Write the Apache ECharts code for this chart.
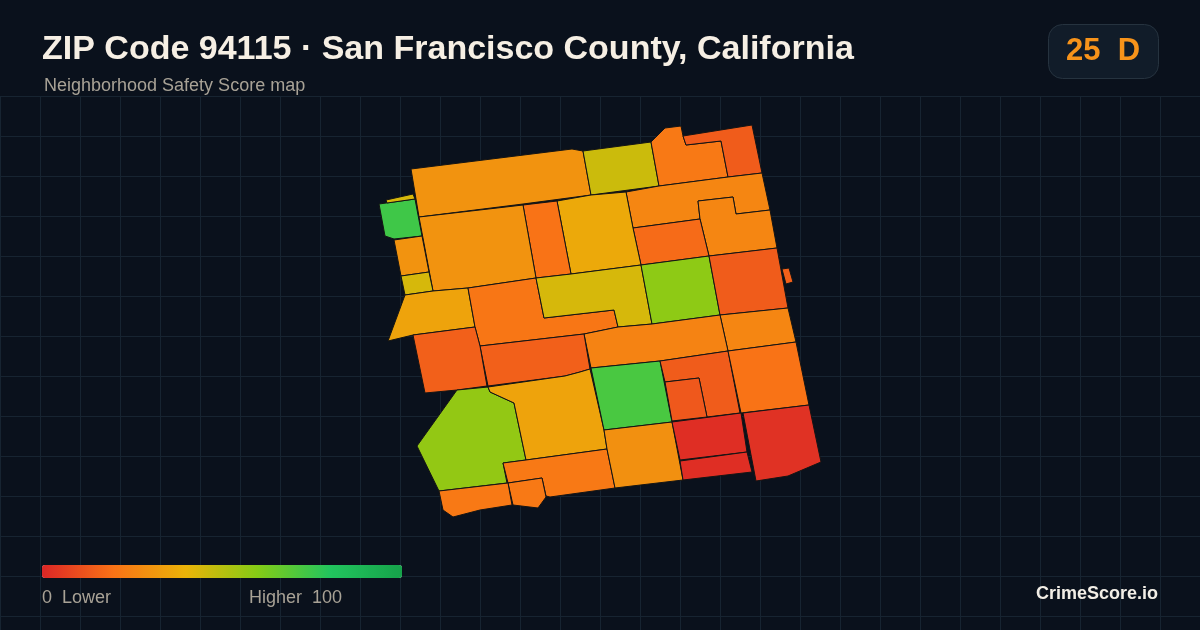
<!DOCTYPE html>
<html>
<head>
<meta charset="utf-8">
<style>html,body{margin:0;padding:0;background:#0a111c}#c{width:1200px;height:630px}</style>
<script src="https://cdn.jsdelivr.net/npm/echarts@6/dist/echarts.min.js"></script>
</head>
<body>
<div id="c"></div>
<script>
const titleText = "ZIP Code 94115 · San Francisco County, California";
const subtitleText = "Neighborhood Safety Score map";
const scoreText = "25  D";
const brandText = "CrimeScore.io";
const legendLow = "0  Lower";
const legendHigh = "Higher  100";
const scaleColors = ["#dc2626","#f97316","#eab308","#84cc16","#22c55e","#16a34a"];

const tractNames = ["A","B","C","D","E","F","G","H","I","J","K","L","M","N","O","P","Q","R","S","T","U","V","W","X","Y","Z","AA","BB","CC","DD","EE","FF","GG","HH","II","JJ","KK"];
const tractScores = [30,46,22,14,26,26,18,37,20,30,74,44,30,44,35,21,44,58,14,15,26,25,15,15,57,35,22,22,22,72,29,14,13,20,2,2,3];
const tractOutlines = [
 [[411,169],[572,149],[583,151],[591,195],[523,204],[419,217]],
 [[583,151],[651,142],[659,186],[591,195]],
 [[651,142],[665,128],[681,126],[683,136],[686,145],[721,141],[728,177],[659,186]],
 [[683,136],[752,125],[762,173],[728,177],[721,141],[686,145]],
 [[626,192],[659,186],[728,177],[762,173],[770,210],[736,214],[733,197],[698,201],[700,219],[633,228]],
 [[698,201],[733,197],[736,214],[770,210],[777,248],[709,256],[700,219]],
 [[633,228],[700,219],[709,256],[641,265]],
 [[557,201],[591,195],[626,192],[633,228],[641,265],[571,274]],
 [[523,205],[557,201],[571,274],[536,278]],
 [[419,217],[523,205],[536,278],[468,288],[433,291]],
 [[379,204],[415,199],[422,236],[394,239],[385,236]],
 [[386,200],[413,194],[415,199],[387,203]],
 [[394,240],[422,236],[429,272],[401,276]],
 [[401,276],[429,272],[433,291],[405,295]],
 [[405,295],[433,291],[468,288],[475,327],[413,335],[388,341]],
 [[468,288],[536,278],[544,318],[614,310],[618,327],[584,334],[480,346],[475,327]],
 [[536,278],[571,274],[641,265],[652,324],[618,327],[614,310],[544,318]],
 [[641,265],[709,256],[720,315],[652,324]],
 [[709,256],[777,248],[788,308],[720,315]],
 [[782,269],[789,268],[793,282],[786,284]],
 [[720,315],[788,308],[796,342],[728,351]],
 [[584,334],[618,327],[652,324],[720,315],[728,351],[660,361],[591,368],[590,369]],
 [[480,346],[584,334],[590,369],[580,372],[565,376],[488,386]],
 [[413,335],[475,327],[480,346],[487,386],[457,390],[425,393]],
 [[457,390],[488,387],[490,392],[514,403],[526,460],[503,463],[507,483],[439,491],[417,446]],
 [[488,387],[565,376],[580,372],[590,369],[604,430],[607,449],[526,460],[514,403],[490,392]],
 [[503,463],[526,460],[607,449],[615,488],[550,497],[546,496],[542,478],[508,483]],
 [[508,483],[542,478],[546,497],[538,508],[513,505]],
 [[439,491],[508,483],[512,505],[480,510],[453,517],[443,510]],
 [[591,368],[660,361],[672,422],[604,430]],
 [[604,430],[672,422],[683,480],[615,488],[607,449]],
 [[660,361],[728,351],[740,413],[707,417],[699,378],[665,382]],
 [[665,382],[699,378],[707,417],[672,421]],
 [[728,351],[796,342],[809,405],[741,413]],
 [[672,422],[741,413],[747,452],[680,460]],
 [[680,461],[747,452],[752,472],[683,480]],
 [[743,413],[809,405],[821,462],[788,476],[756,481]]
];

const geoJson = {
  type: "FeatureCollection",
  features: tractNames.map((name, i) => ({
    type: "Feature",
    properties: { name },
    geometry: { type: "Polygon", coordinates: [tractOutlines[i].concat([tractOutlines[i][0]])] }
  }))
};
echarts.registerMap("zip94115", geoJson);

const sans = "'Liberation Sans', Arial, sans-serif";
const chart = echarts.init(document.getElementById("c"), null, { renderer: "canvas" });
chart.setOption({
  animation: false,
  backgroundColor: "#0a111c",
  title: [
    { text: titleText, left: 42, top: 33, padding: 0, textStyle: { color: "#f6efe4", fontSize: 34, fontWeight: "bold", fontFamily: sans } },
    { text: subtitleText, left: 44, top: 77, padding: 0, textStyle: { color: "#a8a296", fontSize: 18, fontWeight: "normal", fontFamily: sans } }
  ],
  grid: { left: 0, top: 96, width: 1200, height: 534 },
  xAxis: { type: "value", min: 0, max: 1200, interval: 40, z: -1, axisLine: { show: false }, axisTick: { show: false }, axisLabel: { show: false },
    splitLine: { show: true, lineStyle: { color: "#172431", width: 1 } } },
  yAxis: { type: "value", inverse: true, min: 0, max: 534, interval: 40, z: -1, axisLine: { show: false }, axisTick: { show: false }, axisLabel: { show: false },
    splitLine: { show: true, showMaxLine: false, lineStyle: { color: "#172431", width: 1 } } },
  visualMap: {
    type: "continuous", min: 0, max: 100, orient: "horizontal", left: 42, top: 565, padding: 0, z: 20,
    itemWidth: 13, itemHeight: 360, calculable: false, realtime: false, hoverLink: false, text: null, showLabel: false,
    inRange: { color: scaleColors }, seriesIndex: 0,
    textStyle: { color: "transparent", fontSize: 0 }
  },
  series: [{
    type: "map", map: "zip94115", silent: true, roam: false, z: 5,
    projection: { project: p => p, unproject: p => p },
    left: 379, top: 125, width: 442, height: 392,
    label: { show: false },
    itemStyle: { borderColor: "#141414", borderWidth: 1 },
    emphasis: { disabled: true },
    select: { disabled: true },
    data: tractNames.map((name, i) => ({ name, value: tractScores[i] }))
  }],
  graphic: [
    { type: "rect", z: 100, left: 1048, top: 24, shape: { width: 110, height: 54, r: 14 }, style: { fill: "#111c29", stroke: "#26333f", lineWidth: 1 } },
    { type: "text", z: 101, left: 1066, top: 36, style: { text: scoreText, fill: "#f7931a", font: "bold 31px " + sans } },
    { type: "text", z: 101, left: 42, top: 589, style: { text: legendLow, fill: "#a8a296", font: "18px " + sans } },
    { type: "text", z: 101, left: 249, top: 589, style: { text: legendHigh, fill: "#a8a296", font: "18px " + sans } },
    { type: "text", z: 101, right: 42, top: 585, style: { text: brandText, fill: "#f2eee6", font: "bold 18px " + sans } }
  ]
});
</script>
</body>
</html>
